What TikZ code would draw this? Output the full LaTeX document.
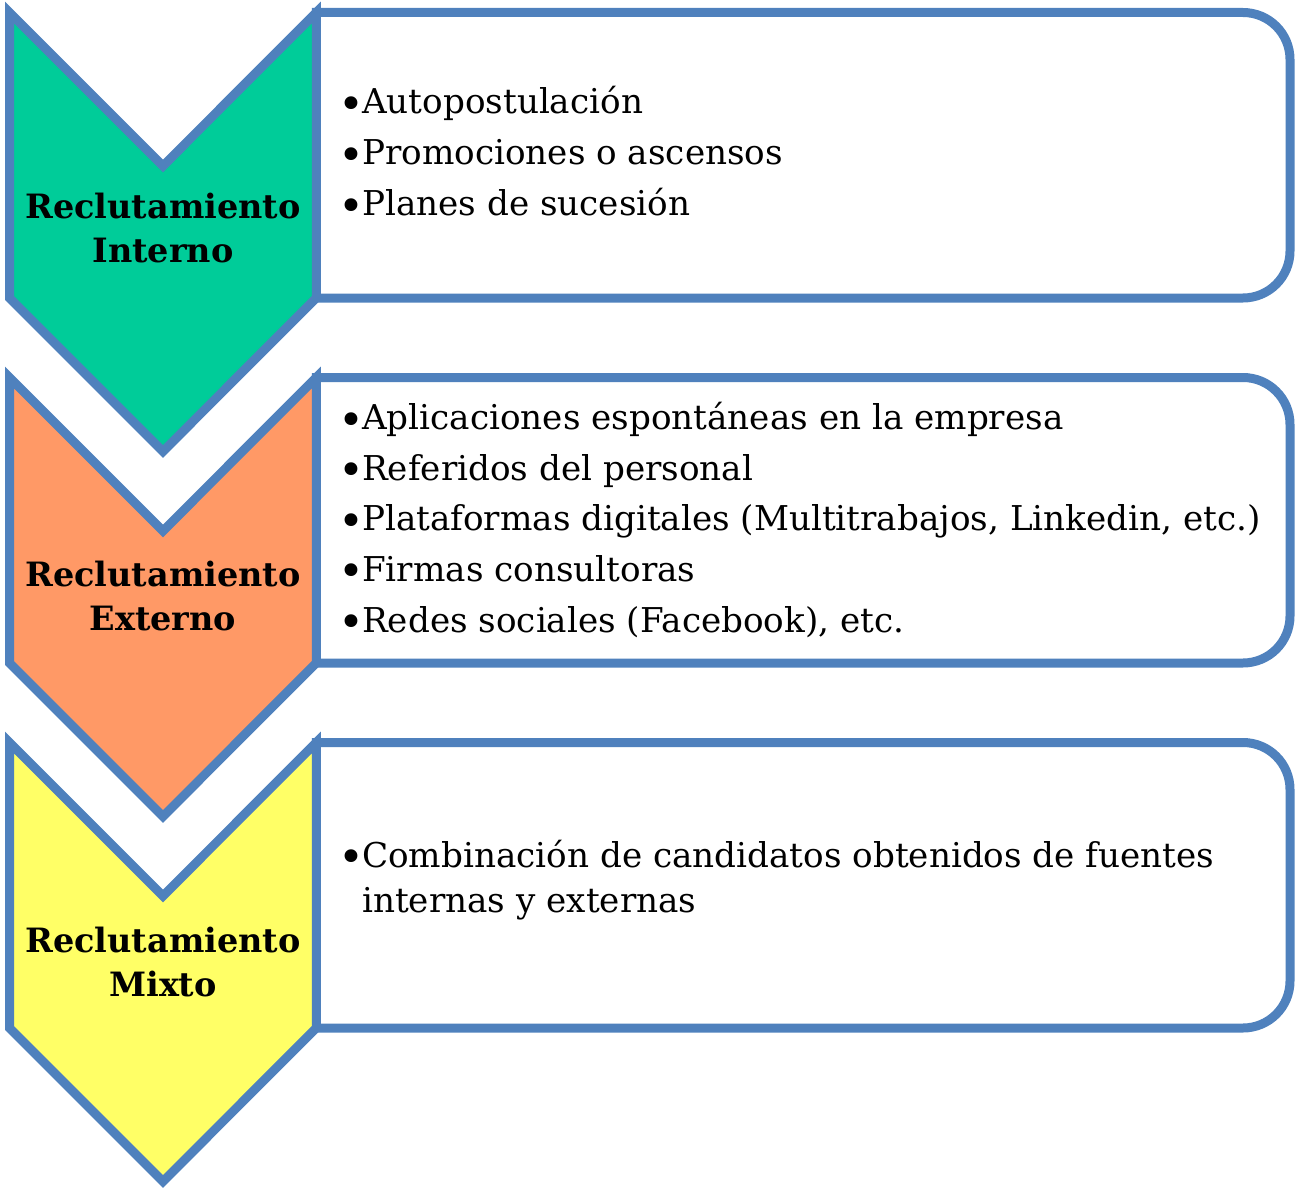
\documentclass[tikz,border=0pt]{standalone}
\usepackage{fontspec}
\setmainfont{DejaVu Serif}
\definecolor{bordblue}{HTML}{4F81BD}
\definecolor{chgreen}{HTML}{00CC99}
\definecolor{chorange}{HTML}{FF9966}
\definecolor{chyellow}{HTML}{FFFF66}
\newcommand\itemdot{\makebox[19pt][l]{\hspace*{-4.5pt}\raisebox{-5.5pt}{\fontsize{44}{44}\selectfont •}}}
\tikzset{
  frame/.style={draw=bordblue, line width=9pt, line join=miter},
  titletext/.style={font=\fontsize{33.5}{40}\selectfont\bfseries, inner sep=0pt, anchor=base},
  itemtext/.style={font=\fontsize{34.2}{45}\selectfont, inner sep=0pt, anchor=base west},
}
\begin{document}
\begin{tikzpicture}[x=1pt,y=1pt]
\useasboundingbox (0,0) rectangle (1295,-1190);
% boxes
\foreach \T in {12.5,377.5,742.5}{
  \draw[frame, fill=white] (316.3,-\T) -- (1243,-\T) arc[start angle=90,end angle=0,radius=47]
     -- (1290,-\T-238.5) arc[start angle=0,end angle=-90,radius=47] -- (316.3,-\T-285.5) -- cycle;
}
% chevrons
\foreach \T/\c in {12.5/chgreen,377.5/chorange,742.5/chyellow}{
  \draw[frame, fill=\c] (9.5,-\T) -- (163,-\T-153.4) -- (316.3,-\T) -- (316.3,-\T-285.5)
     -- (163,-\T-438.9) -- (9.5,-\T-285.5) -- cycle;
}
% titles
\node[titletext] (t1a) at (163,-219) {Reclutamiento};
\node[titletext] (t1b) at (163,-263) {Interno};
\node[titletext] (t2a) at (163,-586) {Reclutamiento};
\node[titletext] (t2b) at (163,-630) {Externo};
\node[titletext] (t3a) at (163,-952) {Reclutamiento};
\node[titletext] (t3b) at (163,-996) {Mixto};
% items box 1
\node[itemtext] (a1) at (343,-114) {\itemdot Autopostulación};
\node[itemtext] (a2) at (343,-165) {\itemdot Promociones o ascensos};
\node[itemtext] (a3) at (343,-216) {\itemdot Planes de sucesión};
% items box 2
\node[itemtext] (b1) at (343,-429.5) {\itemdot Aplicaciones espontáneas en la empresa};
\node[itemtext] (b2) at (343,-480) {\itemdot Referidos del personal};
\node[itemtext] (b3) at (343,-530.7) {\itemdot Plataformas digitales (Multitrabajos, Linkedin, etc.)};
\node[itemtext] (b4) at (343,-581.3) {\itemdot Firmas consultoras};
\node[itemtext] (b5) at (343,-632) {\itemdot Redes sociales (Facebook), etc.};
% items box 3
\node[itemtext] (c1) at (343,-867) {\itemdot Combinación de candidatos obtenidos de fuentes};
\node[itemtext] (c2) at (362,-912) {internas y externas};
\end{tikzpicture}
\end{document}
